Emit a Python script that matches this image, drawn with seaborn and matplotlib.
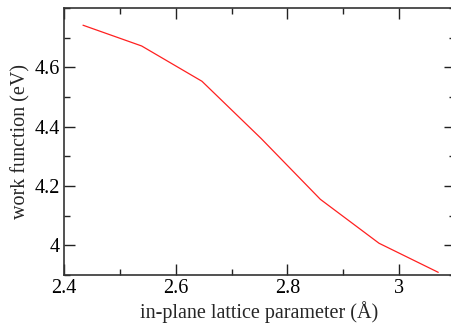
import matplotlib
matplotlib.use("Agg")
import matplotlib.pyplot as plt
import seaborn as sns
import pandas as pd
from matplotlib.ticker import MultipleLocator

lattice = [2.434, 2.539, 2.647, 2.753, 2.859, 2.964, 3.070]
work_function = [4.742, 4.672, 4.553, 4.360, 4.155, 4.007, 3.909]
xticks = [2.4, 2.6, 2.8, 3.0]
xticklabels = ["2.4", "2.6", "2.8", "3"]
yticks = [4.0, 4.2, 4.4, 4.6]
yticklabels = ["4", "4.2", "4.4", "4.6"]

sns.set_style("ticks")
plt.rcParams['font.family'] = ['Liberation Serif', 'DejaVu Serif']

df = pd.DataFrame({"a": lattice, "wf": work_function})

fig = plt.figure(figsize=(4.51, 3.26), dpi=100)
# right spine falls just outside the canvas, as in the reference
ax = fig.add_axes([64/451, 51/326, 391/451, 267/326])
sns.lineplot(data=df, x="a", y="wf", ax=ax, color="#ff2020", linewidth=0.9)

ax.set_xlim(2.4, 3.1)
ax.set_ylim(3.9, 4.8)
ax.set_xticks(xticks)
ax.set_xticklabels(xticklabels)
ax.set_yticks(yticks)
ax.set_yticklabels(yticklabels)
ax.xaxis.set_minor_locator(MultipleLocator(0.1))
ax.yaxis.set_minor_locator(MultipleLocator(0.1))
ax.tick_params(which="both", direction="in", top=True, right=True, labelsize=14.5,
               colors="#222222", labelcolor="black")
ax.tick_params(which="major", length=8, width=1.0, pad=3)
ax.tick_params(which="minor", length=4, width=1.0)
for s in ax.spines.values():
    s.set_linewidth(1.2)
    s.set_color("#333333")
ax.set_xlabel("in-plane lattice parameter (Å)", fontsize=14.5, labelpad=2)
ax.set_ylabel("work function (eV)", fontsize=14.5, labelpad=3)

fig.savefig("out.png", dpi=100)
